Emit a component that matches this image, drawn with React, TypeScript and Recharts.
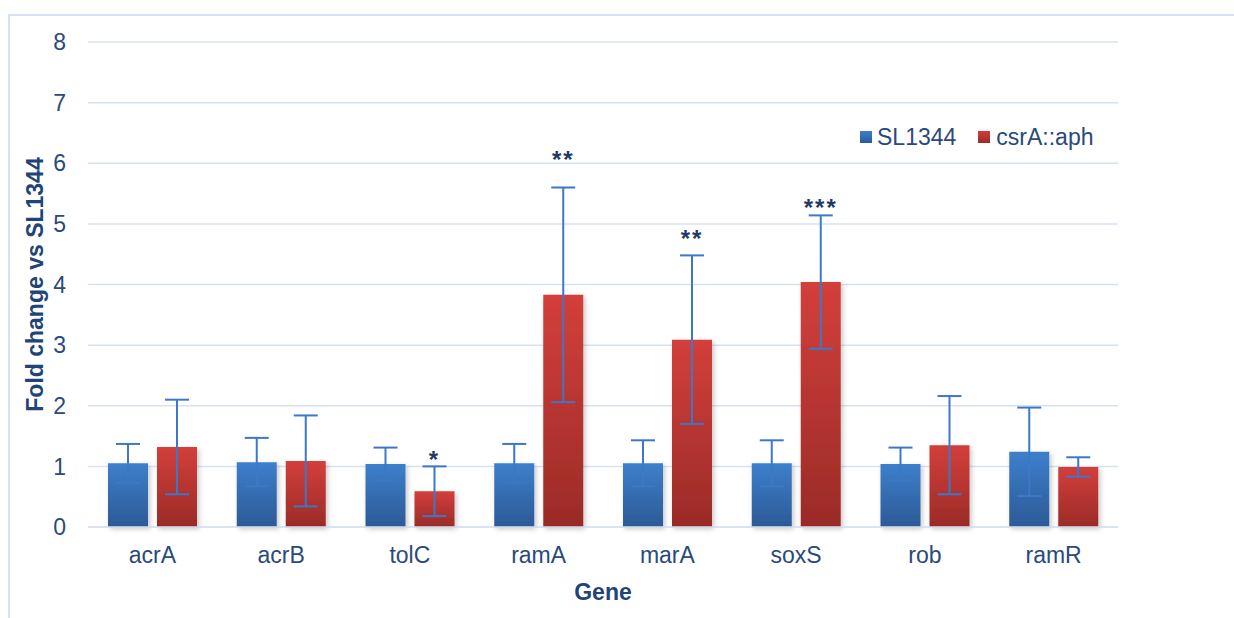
import React from 'react';
import { BarChart, Bar, XAxis, YAxis, CartesianGrid, ErrorBar, LabelList, Label } from 'recharts';

const genes = ['acrA', 'acrB', 'tolC', 'ramA', 'marA', 'soxS', 'rob', 'ramR'];
const sl1344 = [1.05, 1.07, 1.04, 1.05, 1.05, 1.05, 1.04, 1.24];
const sl1344Err = [0.32, 0.4, 0.27, 0.32, 0.38, 0.38, 0.27, 0.73];
const csrA = [1.32, 1.09, 0.59, 3.83, 3.09, 4.04, 1.35, 0.99];
const csrAErr = [0.78, 0.75, 0.41, 1.77, 1.39, 1.1, 0.81, 0.16];
const sig = ['', '', '*', '**', '**', '***', '', ''];
const sigLevel = [0, 0, 1.19, 6.14, 4.83, 5.35, 0, 0];
const yTicks = [0, 1, 2, 3, 4, 5, 6, 7, 8];
const seriesNames = ['SL1344', 'csrA::aph'];

const data = genes.map((g, i) => ({
  gene: g,
  sl: sl1344[i],
  slErr: sl1344Err[i],
  cs: csrA[i],
  csErr: csrAErr[i],
}));

const FONT = '"Liberation Sans", Arial, sans-serif';
const TEXT = '#2a4a7b';
const TITLE = '#1f4478';

const StarLabel = (props: any) => {
  const { x, y, width, height, index } = props;
  const s = sig[index];
  if (!s) return null;
  const v = csrA[index];
  const pxPerUnit = height / v;
  const cy = y + height - sigLevel[index] * pxPerUnit;
  return (
    <text
      x={x + width / 2}
      y={cy + 13}
      textAnchor="middle"
      fontFamily={FONT}
      fontSize={24}
      fontWeight="bold"
      letterSpacing={2}
      fill="#1f3a66"
    >
      {s}
    </text>
  );
};

const LegendBox = () => (
  <div
    style={{
      position: 'absolute',
      left: 860,
      top: 125,
      display: 'flex',
      alignItems: 'center',
      height: 24,
      fontFamily: FONT,
      fontSize: 23,
      color: TEXT,
      whiteSpace: 'nowrap',
    }}
  >
    <div style={{ width: 12, height: 12, background: 'linear-gradient(#3d7fcc, #2c5a96)' }} />
    <span style={{ marginLeft: 5 }}>{seriesNames[0]}</span>
    <div style={{ width: 12, height: 12, marginLeft: 22, background: 'linear-gradient(#d33f3b, #9a2b27)' }} />
    <span style={{ marginLeft: 6 }}>{seriesNames[1]}</span>
  </div>
);

export default function App() {
  return (
    <div style={{ position: 'relative', width: 1234, height: 618, background: '#fff' }}>
      <style>{`body{margin:0;overflow:hidden;}`}</style>
      <div
        style={{
          position: 'absolute',
          left: 8,
          top: 14,
          width: 1226,
          height: 604,
          borderLeft: '2px solid #d7e2f1',
          borderTop: '2px solid #d7e2f1',
          boxSizing: 'border-box',
        }}
      />
      <div style={{ position: 'absolute', left: 0, top: 0 }}>
        <BarChart
          width={1234}
          height={618}
          data={data}
          margin={{ top: 42, right: 116, left: 0, bottom: 0 }}
          barSize={40}
          barGap={9}
        >
          <defs>
            <linearGradient id="gBlue" x1="0" y1="0" x2="0" y2="1">
              <stop offset="0%" stopColor="#3d7fcc" />
              <stop offset="100%" stopColor="#2c5a96" />
            </linearGradient>
            <linearGradient id="gRed" x1="0" y1="0" x2="0" y2="1">
              <stop offset="0%" stopColor="#d33f3b" />
              <stop offset="100%" stopColor="#9a2b27" />
            </linearGradient>
            <filter id="shadow" x="-20%" y="-10%" width="150%" height="130%">
              <feDropShadow dx="2" dy="2" stdDeviation="2.5" floodColor="#000" floodOpacity="0.22" />
            </filter>
          </defs>
          <CartesianGrid vertical={false} stroke="#d7e2f1" strokeWidth={1.5} />
          <XAxis
            dataKey="gene"
            height={91}
            tickLine={false}
            tickSize={0}
            tickMargin={20}
            axisLine={{ stroke: '#d7e2f1', strokeWidth: 1.5 }}
            tick={{ fill: TEXT, fontSize: 23, fontFamily: FONT }}
          >
            <Label
              value="Gene"
              position="insideBottom"
              offset={18}
              style={{ fill: TITLE, fontSize: 23, fontWeight: 'bold', fontFamily: FONT }}
            />
          </XAxis>
          <YAxis
            width={88}
            domain={[0, 8]}
            ticks={yTicks}
            interval={0}
            tickLine={false}
            axisLine={false}
            tickSize={0}
            tickMargin={22}
            tick={{ fill: TEXT, fontSize: 23, fontFamily: FONT }}
          >
            <Label
              content={(p: any) => {
                const vb = p.viewBox || {};
                const cy = (vb.y || 42) + (vb.height || 485) / 2;
                return (
                  <text
                    x={35}
                    y={cy}
                    transform={`rotate(-90, 35, ${cy})`}
                    textAnchor="middle"
                    dominantBaseline="central"
                    fill={TITLE}
                    fontSize={23}
                    fontWeight="bold"
                    fontFamily={FONT}
                  >
                    Fold change vs SL1344
                  </text>
                );
              }}
            />
          </YAxis>
          <Bar dataKey="sl" name={seriesNames[0]} fill="url(#gBlue)" filter="url(#shadow)" isAnimationActive={false}>
            <ErrorBar dataKey="slErr" width={12} stroke="#3b78c8" strokeWidth={2} />
          </Bar>
          <Bar dataKey="cs" name={seriesNames[1]} fill="url(#gRed)" filter="url(#shadow)" isAnimationActive={false}>
            <ErrorBar dataKey="csErr" width={12} stroke="#3b78c8" strokeWidth={2} />
            <LabelList dataKey="cs" content={<StarLabel />} />
          </Bar>
        </BarChart>
      </div>
      <LegendBox />
    </div>
  );
}
